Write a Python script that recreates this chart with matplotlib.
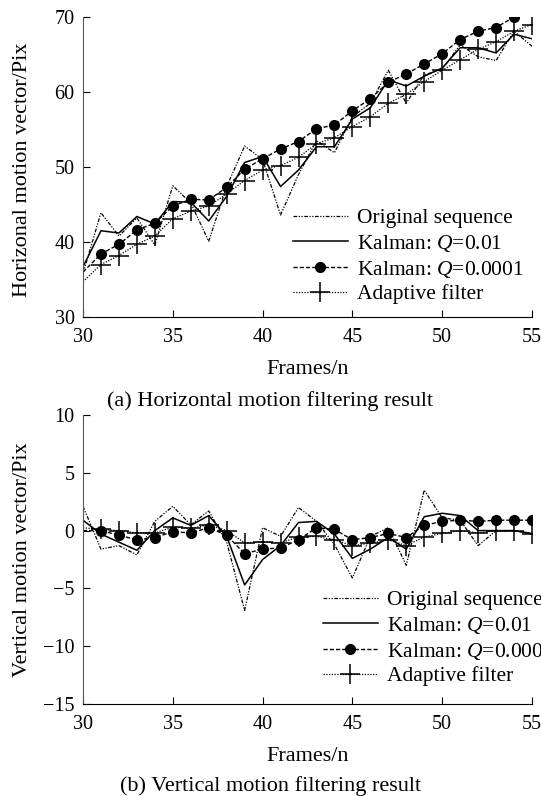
import numpy as np
import matplotlib.pyplot as plt

plt.rcParams['font.family'] = 'serif'
plt.rcParams['font.serif'] = ['Liberation Serif']
plt.rcParams['mathtext.fontset'] = 'custom'
plt.rcParams['mathtext.rm'] = 'Liberation Serif'
plt.rcParams['mathtext.it'] = 'Liberation Serif:italic'

frames = list(range(30, 56))

# horizontal motion (a)
h_orig = [35.8, 43.9, 40.8, 43.2, 39.6, 47.5, 45.2, 40.1, 47.4, 52.8, 51.0, 43.6, 49.0,
          53.5, 51.9, 56.7, 58.5, 62.9, 58.5, 62.3, 63.0, 66.3, 64.7, 64.2, 68.1, 66.1]
h_k01 = [36.7, 41.5, 41.2, 43.4, 42.4, 45.4, 45.3, 42.8, 46.1, 50.6, 51.4, 47.4, 49.6,
         52.7, 52.7, 56.4, 57.9, 61.6, 60.8, 62.1, 63.2, 65.9, 65.9, 65.2, 67.7, 67.1]
h_k0001 = [36.0, 38.4, 39.7, 41.6, 42.5, 44.8, 45.7, 45.6, 47.3, 49.7, 51.1, 52.4, 53.4,
           55.1, 55.6, 57.5, 59.1, 61.3, 62.4, 63.75, 65.1, 67.0, 68.1, 68.6, 70.0]
h_adapt = [34.7, 37.0, 38.2, 39.7, 40.8, 43.1, 44.1, 44.8, 46.4, 48.2, 49.6, 50.2, 51.3,
           53.1, 53.9, 55.4, 56.7, 58.5, 59.7, 61.4, 62.9, 64.3, 65.7, 66.7, 68.1, 69.0]

# vertical motion (b)
v_orig = [2.1, -1.6, -1.3, -2.1, 0.8, 2.1, 0.5, 1.7, -1.0, -6.9, 0.25, -0.5, 2.0,
          0.8, -1.2, -4.1, -0.5, 0.25, -3.0, 3.5, 1.1, 0.9, -1.3, 0.0, 0.0, -0.3]
v_k01 = [0.9, -0.3, -1.0, -1.7, 0.0, 1.1, 0.45, 1.3, -0.5, -4.7, -2.5, -1.3, 0.7,
         0.8, -0.3, -2.4, -1.6, -0.6, -1.6, 1.2, 1.5, 1.3, 0.0, 0.0, 0.0, -0.25]
v_k0001 = [0.0, 0.0, -0.4, -0.8, -0.6, -0.1, -0.2, 0.25, -0.4, -2.0, -1.6, -1.5, -0.8,
           0.25, 0.1, -0.8, -0.6, -0.25, -0.6, 0.45, 0.8, 0.9, 0.8, 0.9, 0.9, 0.9]
v_adapt = [0.25, 0.1, 0.0, -0.2, -0.2, 0.3, 0.2, 0.5, 0.0, -1.05, -1.0, -1.05, -0.55,
           -0.5, -0.8, -1.3, -1.1, -0.8, -1.3, -0.55, -0.25, 0.0, -0.2, 0.0, 0.0, -0.3]

labels = ['Original sequence', 'Kalman: $Q$=0.01', 'Kalman: $Q$=0.0001', 'Adaptive filter']


def draw(ax, orig, k01, k0001, adapt):
    n = frames
    ax.plot(n, orig, color='black', lw=0.9, dashes=(3, 1.2, 1, 1.2, 1, 1.2), label=labels[0])
    ax.plot(n, k01, color='black', lw=1.1, ls='-', label=labels[1])
    ax.plot(n[:len(k0001)], k0001, color='black', lw=1.0, dashes=(3, 1.5), marker='o',
            markersize=7, markevery=slice(1, None), label=labels[2])
    ax.plot(n, adapt, color='black', lw=0.9, ls=(0, (1, 1.2)), marker='+', markersize=14,
            markeredgewidth=1.1, markevery=slice(1, None), label=labels[3])
    for s in ['top', 'right']:
        ax.spines[s].set_visible(False)
    ax.spines['left'].set_color('#555555')
    ax.set_xlim(30, 55)
    ax.set_xticks(range(30, 56, 5))
    ax.tick_params(direction='in', length=5, labelsize=14.5, color='black')
    ax.tick_params(axis='x', pad=8)
    ax.tick_params(axis='y', pad=6)
    ax.set_xlabel('Frames/n', fontsize=16, labelpad=9)


def add_legend(ax, x, y):
    ax.legend(loc='upper left', bbox_to_anchor=(x / 541, 1 - y / 796),
              bbox_transform=fig.transFigure, frameon=False, fontsize=15.5,
              handlelength=2.55, handletextpad=0.4, labelspacing=0.22,
              borderpad=0, borderaxespad=0)


fig = plt.figure(figsize=(5.41, 7.96), dpi=100)
ax1 = fig.add_axes([83 / 541, 1 - 317 / 796, 449 / 541, 300 / 796])
ax2 = fig.add_axes([83 / 541, 1 - 704 / 796, 449 / 541, 289 / 796])

draw(ax1, h_orig, h_k01, h_k0001, h_adapt)
ax1.set_ylim(30, 70)
ax1.set_yticks(range(30, 71, 10))
ax1.set_ylabel('Horizonal motion vector/Pix', fontsize=16)
ax1.yaxis.set_label_coords(-0.113, 0.49)
add_legend(ax1, 293, 208)

draw(ax2, v_orig, v_k01, v_k0001, v_adapt)
ax2.set_ylim(-15, 10)
ax2.set_yticks(range(-15, 11, 5))
ax2.set_ylabel('Vertical motion vector/Pix', fontsize=16)
ax2.yaxis.set_label_coords(-0.113, 0.5)
add_legend(ax2, 323, 590)

fig.text(0.5, 1 - 401 / 796, '(a) Horizontal motion filtering result', ha='center',
         va='center', fontsize=16)
fig.text(0.5, 1 - 786 / 796, '(b) Vertical motion filtering result', ha='center',
         va='center', fontsize=16)

fig.savefig('out.png', dpi=100)
